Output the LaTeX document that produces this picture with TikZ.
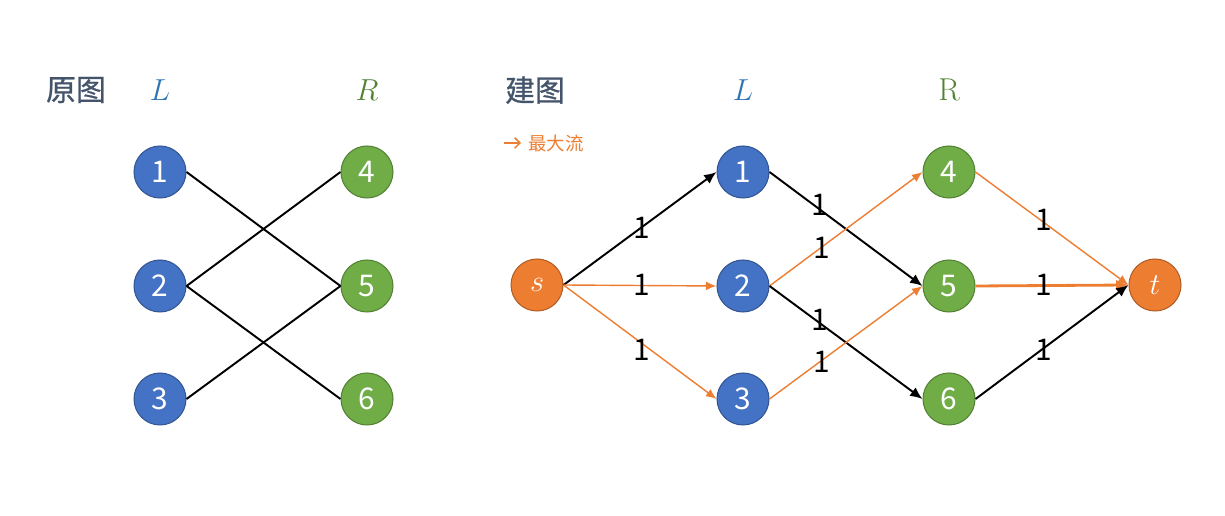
\documentclass[tikz,border=0pt]{standalone}
\usepackage{fontspec}
\setsansfont{Noto Sans CJK SC}
\newfontfamily\cjk{Noto Sans CJK SC}
\newfontfamily\cjkb[FakeBold=0.8]{Noto Sans CJK SC}
\usetikzlibrary{arrows.meta,positioning}
\definecolor{nblue}{HTML}{4472C4}
\definecolor{ngreen}{HTML}{70AD47}
\definecolor{norange}{HTML}{ED7D31}
\definecolor{ltext}{HTML}{2E75B6}
\definecolor{rtext}{HTML}{548235}
\definecolor{title}{HTML}{44546A}

\begin{document}
\begin{tikzpicture}[x=0.02cm,y=-0.02cm,
    vtx/.style={circle,minimum size=1.04cm,inner sep=0pt,line width=0.6pt,
        text=white,font=\fontsize{17}{17}\selectfont\sffamily},
    lv/.style={vtx,fill=nblue,draw=nblue!75!black},
    rv/.style={vtx,fill=ngreen,draw=ngreen!75!black},
    ov/.style={vtx,fill=norange,draw=norange!75!black},
    plain/.style={line width=1.1pt},
    flow/.style={-{Latex[length=6pt,width=5pt]},norange,line width=0.8pt},
    blk/.style={-{Latex[length=7pt,width=6pt]},line width=1.1pt},
    cap1/.style={font=\fontsize{17}{17}\selectfont\sffamily,inner sep=0pt}]
    \useasboundingbox (0,0) rectangle (1225,516);

    % original graph
    \node[font=\fontsize{17}{17}\selectfont\cjkb,text=title] (ytitle) at (76,90) {原图};
    \node[text=ltext,font=\fontsize{18}{18}\selectfont] (yl) at (160,90) {$L$};
    \node[text=rtext,font=\fontsize{18}{18}\selectfont] (yr) at (367,90) {$R$};
    \node[lv] (a1) at (160,172) {1};
    \node[lv] (a2) at (160,286) {2};
    \node[lv] (a3) at (160,399) {3};
    \node[rv] (a4) at (367,172) {4};
    \node[rv] (a5) at (367,286) {5};
    \node[rv] (a6) at (367,399) {6};
    \draw[plain] (a1.east) -- (a5.west);
    \draw[plain] (a2.east) -- (a4.west);
    \draw[plain] (a2.east) -- (a6.west);
    \draw[plain] (a3.east) -- (a5.west);

    % flow network
    \node[font=\fontsize{17}{17}\selectfont\cjkb,text=title] (jtitle) at (535,90) {建图};
    \node[text=ltext,font=\fontsize{18}{18}\selectfont] (jl) at (743,90) {$L$};
    \node[text=rtext,font=\fontsize{18}{18}\selectfont] (jr) at (949,90) {R};
    \coordinate (k0) at (504,143);
    \coordinate (k1) at (521,143);
    \draw[-{Straight Barb[length=3pt]},norange,line width=0.9pt] (k0) -- (k1);
    \node[right,text=norange,font=\fontsize{10.5}{10.5}\selectfont\cjk,inner sep=0pt] (maxf) at (528,143) {最大流};

    \node[ov,font=\fontsize{18}{18}\selectfont] (s) at (537,285) {$s$};
    \node[lv] (b1) at (743,172) {1};
    \node[lv] (b2) at (743,286) {2};
    \node[lv] (b3) at (743,399) {3};
    \node[rv] (b4) at (949,172) {4};
    \node[rv] (b5) at (949,286) {5};
    \node[rv] (b6) at (949,399) {6};
    \node[ov,font=\fontsize{18}{18}\selectfont] (t) at (1155,285) {$t$};

    \draw[blk] (s.east) -- (b1.west);
    \draw[flow] (s.east) -- (b2.west);
    \draw[flow] (s.east) -- (b3.west);
    \draw[blk] (b1.east) -- (b5.west);
    \draw[flow] (b2.east) -- (b4.west);
    \draw[blk] (b2.east) -- (b6.west);
    \draw[flow] (b3.east) -- (b5.west);
    \draw[flow] (b4.east) -- (t.west);
    \draw[blk,draw=norange,line width=1.6pt] (b5.east) -- (t.west);
    \draw[blk] (b6.east) -- (t.west);

    % capacities
    \node[cap1] (c1) at (642,228) {1};
    \node[cap1] (c2) at (642,285) {1};
    \node[cap1] (c3) at (642,350) {1};
    \node[cap1] (c4) at (820,205) {1};
    \node[cap1] (c5) at (822,248) {1};
    \node[cap1] (c6) at (820,320) {1};
    \node[cap1] (c7) at (822,362) {1};
    \node[cap1] (c8) at (1044,220) {1};
    \node[cap1] (c9) at (1044,285) {1};
    \node[cap1] (c10) at (1044,350) {1};
\end{tikzpicture}
\end{document}
